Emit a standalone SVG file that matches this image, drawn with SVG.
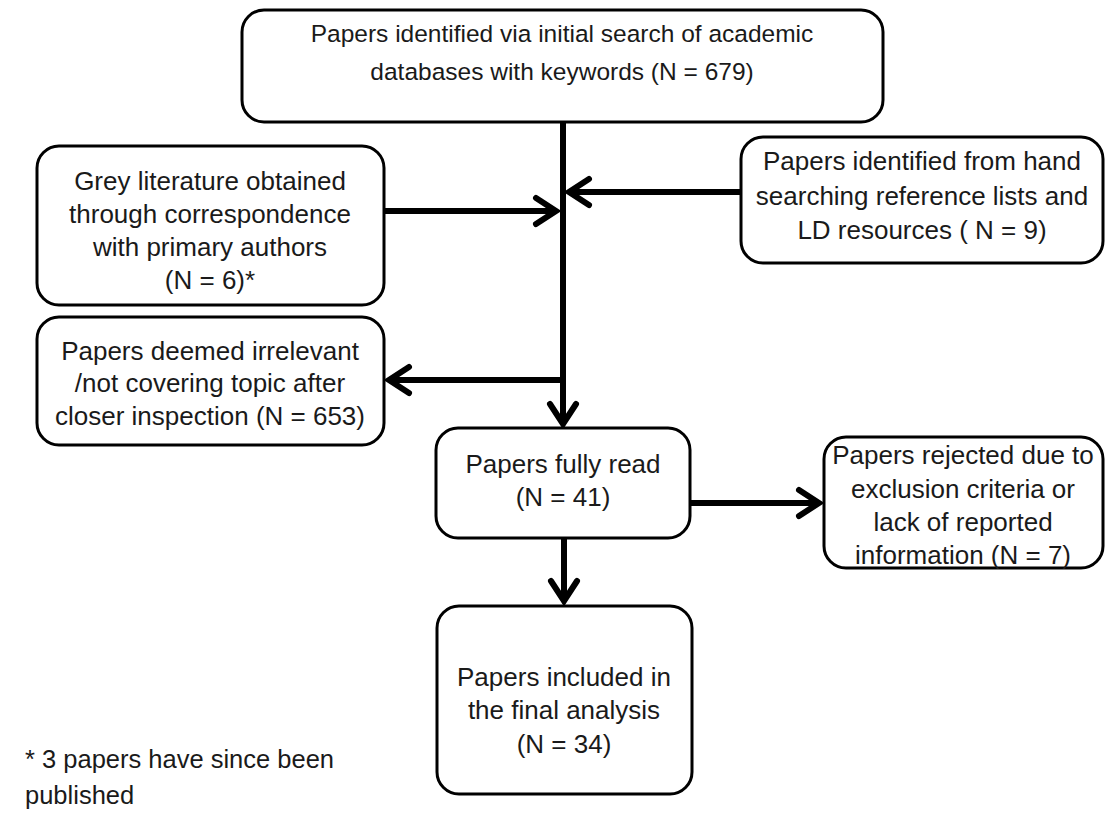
<svg xmlns="http://www.w3.org/2000/svg" width="1108" height="823" viewBox="0 0 1108 823">
<style>
.box{fill:#fff;stroke:#000;stroke-width:3}
.t{font-family:"Liberation Sans",Arial,sans-serif;font-size:26px;fill:#1a1a1a;text-anchor:middle}
.top{font-size:24.5px}
.f{font-family:"Liberation Sans",Arial,sans-serif;font-size:25.5px;fill:#1a1a1a}
.ca{fill:none;stroke:#000;stroke-width:6;marker-end:url(#arr)}
</style>
<defs>
<marker id="arr" markerUnits="userSpaceOnUse" orient="auto" markerWidth="40" markerHeight="40" viewBox="-30 -20 40 40" refX="0" refY="0" overflow="visible">
<path d="M-20,-13 L0,0 L-20,13" fill="none" stroke="#000" stroke-width="6" stroke-linecap="round" stroke-linejoin="miter"/>
</marker>
</defs>
<rect width="1108" height="823" fill="#fff"/>
<g id="connectors">
<path class="ca" d="M563,122 V424"/>
<path class="ca" d="M385,211 H556"/>
<path class="ca" d="M741,192 H569"/>
<path class="ca" d="M563,380 H389"/>
<path class="ca" d="M690,503 H819"/>
<path class="ca" d="M564,538 V601"/>
</g>
<g id="n1">
<rect class="box" x="242" y="10" width="641" height="112" rx="22"/>
<text class="t top" x="562" y="42">Papers identified via initial search of academic</text>
<text class="t top" x="562" y="80">databases with keywords (N = 679)</text>
</g>
<g id="n2">
<rect class="box" x="37" y="146" width="347" height="159" rx="22"/>
<text class="t" x="210" y="190">Grey literature obtained</text>
<text class="t" x="210" y="223">through correspondence</text>
<text class="t" x="210" y="256">with primary authors</text>
<text class="t" x="210" y="289">(N = 6)*</text>
</g>
<g id="n3">
<rect class="box" x="741" y="137" width="362" height="126" rx="22"/>
<text class="t" x="922" y="170">Papers identified from hand</text>
<text class="t" x="922" y="205">searching reference lists and</text>
<text class="t" x="922" y="239">LD resources ( N = 9)</text>
</g>
<g id="n4">
<rect class="box" x="37" y="317" width="347" height="128" rx="22"/>
<text class="t" x="210" y="360">Papers deemed irrelevant</text>
<text class="t" x="210" y="392">/not covering topic after</text>
<text class="t" x="210" y="425">closer inspection (N = 653)</text>
</g>
<g id="n5">
<rect class="box" x="436" y="428" width="254" height="110" rx="22"/>
<text class="t" x="563" y="473">Papers fully read</text>
<text class="t" x="563" y="506">(N = 41)</text>
</g>
<g id="n6">
<rect class="box" x="824" y="437" width="279" height="131" rx="22"/>
<text class="t" x="963" y="464">Papers rejected due to</text>
<text class="t" x="963" y="498">exclusion criteria or</text>
<text class="t" x="963" y="531">lack of reported</text>
<text class="t" x="963" y="564">information (N = 7)</text>
</g>
<g id="n7">
<rect class="box" x="437" y="606" width="255" height="188" rx="22"/>
<text class="t" x="564" y="686">Papers included in</text>
<text class="t" x="564" y="719">the final analysis</text>
<text class="t" x="564" y="753">(N = 34)</text>
</g>
<g id="note">
<text class="f" x="25" y="768">* 3 papers have since been</text>
<text class="f" x="25" y="804">published</text>
</g>
</svg>
